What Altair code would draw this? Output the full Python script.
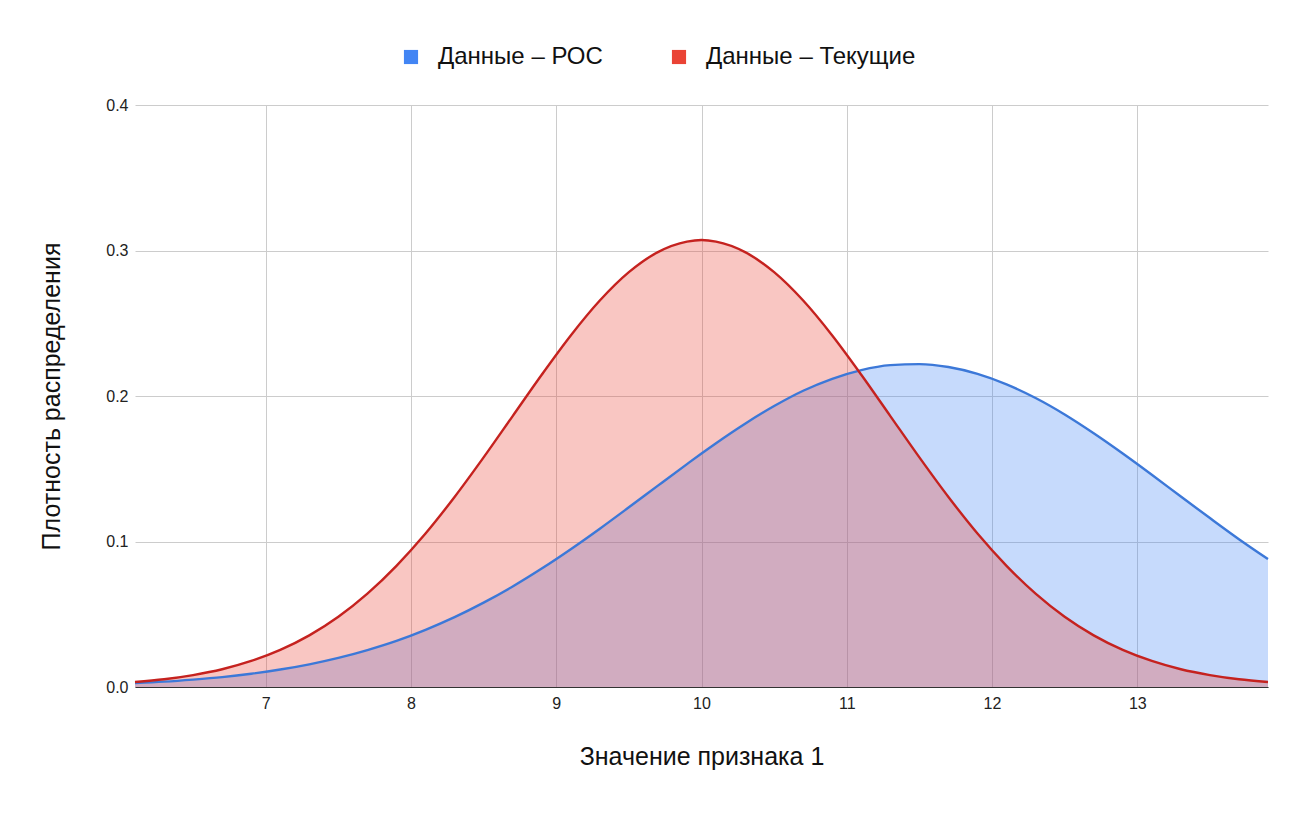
import altair as alt
import pandas as pd

FONT = "Liberation Sans"
SERIES = ["Данные – РОС", "Данные – Текущие"]
FILL_COLORS = ["#4285f4", "#ea4335"]
LINE_COLORS = ["#3c78d8", "#c5221f"]

x_vals = [6.1, 6.3, 6.5, 6.7, 6.9, 7.1, 7.3, 7.5, 7.7, 7.9,
          8.1, 8.3, 8.5, 8.7, 8.9, 9.1, 9.3, 9.5, 9.7, 9.9, 10.0,
          10.1, 10.3, 10.5, 10.7, 10.9, 11.1, 11.3, 11.5, 11.7, 11.9,
          12.1, 12.3, 12.5, 12.7, 12.9, 13.1, 13.3, 13.5, 13.7, 13.9]

roc_vals = [0.0027, 0.0037, 0.0051, 0.0068, 0.0091, 0.0120, 0.0156, 0.0200, 0.0254, 0.0317,
            0.0393, 0.0480, 0.0580, 0.0691, 0.0814, 0.0947, 0.1088, 0.1235, 0.1384, 0.1532, 0.1605,
            0.1676, 0.1810, 0.1931, 0.2036, 0.2118, 0.2178, 0.2212, 0.2219, 0.2199, 0.2152,
            0.2080, 0.1986, 0.1873, 0.1744, 0.1605, 0.1459, 0.1309, 0.1161, 0.1016, 0.0879]

cur_vals = [0.0034, 0.0053, 0.0082, 0.0122, 0.0179, 0.0255, 0.0355, 0.0483, 0.0642, 0.0833,
            0.1055, 0.1306, 0.1578, 0.1862, 0.2146, 0.2416, 0.2656, 0.2851, 0.2989, 0.3061, 0.3072,
            0.3061, 0.2989, 0.2851, 0.2656, 0.2416, 0.2146, 0.1862, 0.1578, 0.1306, 0.1055,
            0.0833, 0.0642, 0.0483, 0.0355, 0.0255, 0.0179, 0.0122, 0.0082, 0.0053, 0.0034]

df = pd.concat([
    pd.DataFrame({"x": x_vals, "y": roc_vals, "series": SERIES[0]}),
    pd.DataFrame({"x": x_vals, "y": cur_vals, "series": SERIES[1]}),
])

x_enc = alt.X("x:Q", title="Значение признака 1",
              scale=alt.Scale(domain=[6.1, 13.9], nice=False, zero=False),
              axis=alt.Axis(values=[7, 8, 9, 10, 11, 12, 13], format="d", tickSize=0,
                            labelPadding=8, titlePadding=33, domainColor="#333333",
                            gridColor="#cccccc", labelFontSize=16, titleFontSize=25,
                            labelColor="#222222", titleColor="#111111",
                            titleFontWeight="normal", labelFont=FONT, titleFont=FONT))
y_enc = alt.Y("y:Q", title="Плотность распределения", stack=None,
              scale=alt.Scale(domain=[0, 0.4], nice=False),
              axis=alt.Axis(values=[0, 0.1, 0.2, 0.3, 0.4], format=".1f", tickSize=0,
                            labelPadding=7, titlePadding=41, domain=False,
                            gridColor="#cccccc", labelFontSize=16, titleFontSize=25,
                            labelColor="#222222", titleColor="#111111",
                            titleFontWeight="normal", labelFont=FONT, titleFont=FONT))

fill_enc = alt.Color("series:N", scale=alt.Scale(domain=SERIES, range=FILL_COLORS),
                     legend=alt.Legend(title=None, orient="none", direction="horizontal",
                                       legendX=264, legendY=-60,
                                       symbolType="square", symbolSize=200, symbolStrokeWidth=0,
                                       symbolOpacity=1, labelLimit=0, labelOffset=15,
                                       labelFontSize=24, labelFont=FONT, labelColor="#111111",
                                       columnPadding=64))
line_enc = alt.Color("series:N", scale=alt.Scale(domain=SERIES, range=LINE_COLORS), legend=None)

areas = alt.Chart(df).mark_area(interpolate="monotone", opacity=0.3).encode(x=x_enc, y=y_enc, color=fill_enc)
lines = alt.Chart(df).mark_line(interpolate="monotone", strokeWidth=2.4).encode(x=x_enc, y=y_enc, color=line_enc)

chart = (
    alt.layer(areas, lines)
    .resolve_scale(color="independent")
    .properties(width=1133, height=582, padding={"left": 31, "top": 37, "right": 30, "bottom": 20})
    .configure_view(stroke=None)
)

chart.save("out.html", embed_options={"renderer": "svg", "actions": False})
